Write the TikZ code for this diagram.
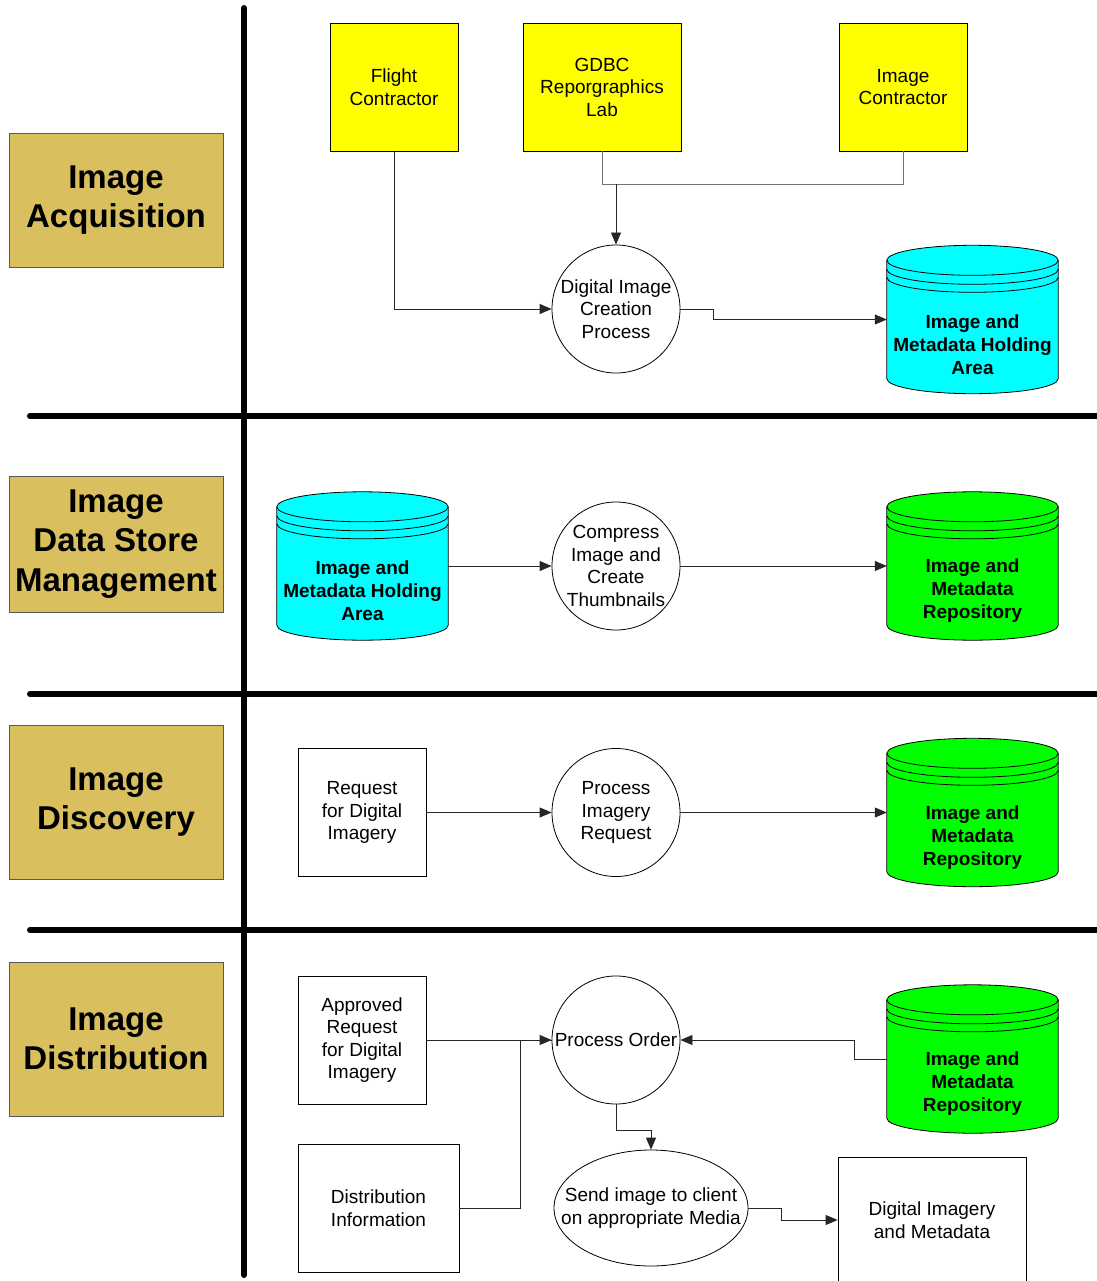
\documentclass[tikz,border=0pt]{standalone}
\usepackage{fontspec}
\setmainfont{Liberation Sans}
\usetikzlibrary{arrows.meta,shapes.geometric,calc}
\definecolor{lanegold}{RGB}{217,191,94}
\definecolor{storecyan}{RGB}{0,255,255}
\definecolor{storegreen}{RGB}{0,255,0}
\definecolor{srcyellow}{RGB}{255,255,0}

% Draws a data-store drum around the (empty) node #1, filled with #2, labelled #3
\newcommand{\drum}[3]{%
  \path[fill=#2, draw=black, line width=0.8pt]
    let \p1=(#1.north west), \p2=(#1.south east), \n1={(\x2-\x1)/2} in
    (\x1,\y1-15pt) -- (\x1,\y2+15pt)
    arc[start angle=180,end angle=360,x radius=\n1,y radius=15pt]
    -- (\x2,\y1-15pt)
    arc[start angle=0,end angle=180,x radius=\n1,y radius=15pt] -- cycle;
  \draw[line width=0.8pt]
    let \p1=(#1.north west), \p2=(#1.south east), \n1={(\x2-\x1)/2} in
    (\x1,\y1-15pt) arc[start angle=180,end angle=360,x radius=\n1,y radius=15pt]
    (\x1,\y1-24pt) arc[start angle=180,end angle=360,x radius=\n1,y radius=15pt]
    (\x1,\y1-32pt) arc[start angle=180,end angle=360,x radius=\n1,y radius=15pt];
  \node[storetext] (#1-text) at ([yshift=-25pt]#1.center) {#3};%
}

\begin{document}
\begin{tikzpicture}[x=1pt,y=-1pt,
  txt/.style={font=\fontsize{19}{22.5}\selectfont, align=center},
  proc/.style={txt, circle, draw, line width=0.8pt, minimum size=128pt, inner sep=0pt},
  box/.style={txt, draw, line width=0.8pt, rectangle, inner sep=0pt},
  src/.style={box, fill=srcyellow, minimum height=128pt},
  lane/.style={draw=black!65, line width=0.8pt, fill=lanegold, minimum width=214pt,
    font=\bfseries\fontsize{33}{39.5}\selectfont, align=center, inner sep=0pt},
  store/.style={minimum width=171pt, minimum height=148pt, inner sep=0pt},
  storetext/.style={font=\bfseries\fontsize{19}{23}\selectfont, align=center},
  link/.style={draw=black!85, line width=0.8pt},
  flow/.style={link, -{Triangle[length=12pt,width=10pt]}},
  divider/.style={line width=6pt, line cap=round}]

\useasboundingbox (0,0) rectangle (1096,1281);

% swim-lane dividers
\draw[divider] (244,8) -- (244,1275);
\draw[divider] (30,416) -- (1110,416);
\draw[divider] (30,694) -- (1110,694);
\draw[divider] (30,930) -- (1110,930);

% lane titles
\node[lane, minimum height=134pt] (laneA) at (116,200) {Image\\Acquisition};
\node[lane, minimum height=136pt] (laneB) at (116,544) {Image\\Data Store\\Management};
\node[lane, minimum height=154pt] (laneC) at (116,802) {Image\\Discovery};
\node[lane, minimum height=154pt] (laneD) at (116,1039) {Image\\Distribution};

% ---- Image Acquisition
\node[src, minimum width=128pt] (flight) at (394,87) {Flight\\Contractor};
\node[src, minimum width=158pt] (gdbc) at (602,87) {GDBC\\Reporgraphics\\Lab};
\node[src, minimum width=128pt] (imgc) at (903,87) {Image\\Contractor};
\node[proc] (create) at (616,309) {Digital Image\\Creation\\Process};
\node[store] (hold1) at (972.5,319.5) {};
\drum{hold1}{storecyan}{Image and\\Metadata Holding\\Area}

\coordinate (bus) at ($(gdbc.south)+(0,33)$);
\draw[link, draw=black!55] (gdbc.south) -- (bus) -| (imgc.south);
\draw[flow] (bus -| create.north) -- (create.north);
\draw[flow] (flight.south) |- (create.west);
\draw[flow] (create.east) -- ++(33,0) |- (hold1.west);

% ---- Image Data Store Management
\node[store] (hold2) at (362.5,566) {};
\drum{hold2}{storecyan}{Image and\\Metadata Holding\\Area}
\node[proc] (compress) at (616,566) {Compress\\Image and\\Create\\Thumbnails};
\node[store] (repo1) at (972.5,566) {};
\drum{repo1}{storegreen}{Image and\\Metadata\\Repository}
\draw[flow] (hold2.east) -- (compress.west);
\draw[flow] (compress.east) -- (repo1.west);

% ---- Image Discovery
\node[box, minimum width=128pt, minimum height=128pt] (req) at (362,812.5) {Request\\for Digital\\Imagery};
\node[proc] (search) at (616,812.5) {Process\\Imagery\\Request};
\node[store] (repo2) at (972.5,812.5) {};
\drum{repo2}{storegreen}{Image and\\Metadata\\Repository}
\draw[flow] (req.east) -- (search.west);
\draw[flow] (search.east) -- (repo2.west);

% ---- Image Distribution
\node[box, minimum width=128pt, minimum height=128pt] (appr) at (362,1040) {Approved\\Request\\for Digital\\Imagery};
\node[box, minimum width=161pt, minimum height=128pt] (dist) at (378.5,1208) {Distribution\\Information};
\node[proc] (order) at (616,1040) {Process Order};
\node[store] (repo3) at (972.5,1059) {};
\drum{repo3}{storegreen}{Image and\\Metadata\\Repository}
\node[txt, ellipse, draw, line width=0.8pt, minimum width=194pt, minimum height=116pt,
  inner xsep=-40pt, inner ysep=0pt]
  (send) at (651,1208) {Send image to client\\on appropriate Media};
\node[box, minimum width=188pt, minimum height=126pt] (dim) at (932,1220) {Digital Imagery\\and Metadata};

\draw[flow] (appr.east) -- (order.west);
\draw[link] (dist.east) -- ++(61,0) |- (order.west);
\draw[flow] (repo3.west) -- ++(-32,0) |- (order.east);
\draw[flow] (order.south) -- ++(0,26) -| (send.north);
\draw[flow] (send.east) -- ++(33,0) |- (dim.west);

\end{tikzpicture}
\end{document}
